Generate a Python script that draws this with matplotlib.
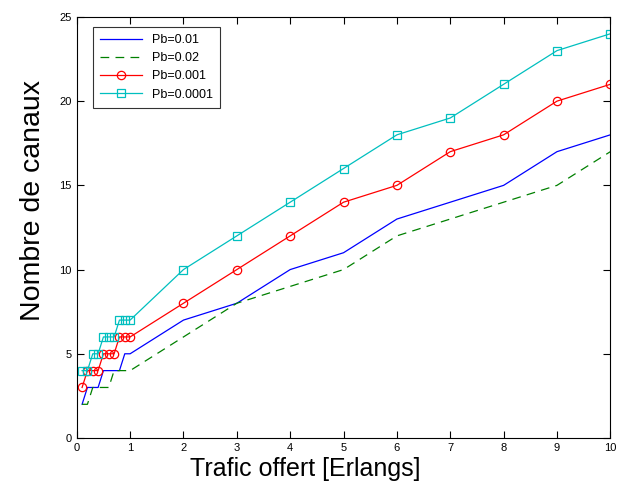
import matplotlib
matplotlib.use("Agg")
import matplotlib.pyplot as plt

plt.rcParams["font.family"] = ["Liberation Sans", "DejaVu Sans"]

# offered traffic (Erlangs)
trafic = [0.1, 0.2, 0.3, 0.4, 0.5, 0.6, 0.7, 0.8, 0.9, 1, 2, 3, 4, 5, 6, 7, 8, 9, 10]

# number of channels for each blocking probability
canaux_001 = [2, 3, 3, 3, 4, 4, 4, 4, 5, 5, 7, 8, 10, 11, 13, 14, 15, 17, 18]
canaux_002 = [2, 2, 3, 3, 3, 3, 4, 4, 4, 4, 6, 8, 9, 10, 12, 13, 14, 15, 17]
canaux_0001 = [3, 4, 4, 4, 5, 5, 5, 6, 6, 6, 8, 10, 12, 14, 15, 17, 18, 20, 21]
canaux_00001 = [4, 4, 5, 5, 6, 6, 6, 7, 7, 7, 10, 12, 14, 16, 18, 19, 21, 23, 24]

labels = ["Pb=0.01", "Pb=0.02", "Pb=0.001", "Pb=0.0001"]
x_ticks = list(range(0, 11))
y_ticks = [0, 5, 10, 15, 20, 25]

fig = plt.figure(figsize=(6.19, 4.98), dpi=100)
fig.patch.set_facecolor("white")
ax = fig.add_axes([0.124, 0.1205, 0.862, 0.8455])

ax.plot(trafic, canaux_001, color="#0000ff", lw=0.9, label=labels[0])
ax.plot(trafic, canaux_002, color="#008000", lw=0.9, ls=(0, (7, 5)), label=labels[1])
ax.plot(trafic, canaux_0001, color="#ff0000", lw=0.9, marker="o", ms=6,
        mfc="none", mew=0.9, label=labels[2])
ax.plot(trafic, canaux_00001, color="#00bfbf", lw=0.9, marker="s", ms=6,
        mfc="none", mew=0.9, label=labels[3])

ax.set_xlim(0, 10)
ax.set_ylim(0, 25)
ax.set_xticks(x_ticks)
ax.set_yticks(y_ticks)
ax.tick_params(direction="in", top=True, right=True, labelsize=8, length=5, width=0.8)
for s in ax.spines.values():
    s.set_linewidth(0.8)

ax.set_xlabel("Trafic offert [Erlangs]", fontsize=18)
ax.set_ylabel("Nombre de canaux", fontsize=20.5)
ax.xaxis.set_label_coords(0.428, -0.045, transform=ax.transAxes)
ax.yaxis.set_label_coords(-0.058, 0.565, transform=ax.transAxes)
ax.xaxis.label.set_va("top")

leg = ax.legend(loc="upper left", bbox_to_anchor=(0.03, 0.976), fontsize=9,
                frameon=True, fancybox=False, edgecolor="black",
                handlelength=3.4, borderpad=0.55, labelspacing=0.5,
                borderaxespad=0)
leg.get_frame().set_linewidth(0.8)

fig.savefig("out.png", dpi=100, facecolor="white")
